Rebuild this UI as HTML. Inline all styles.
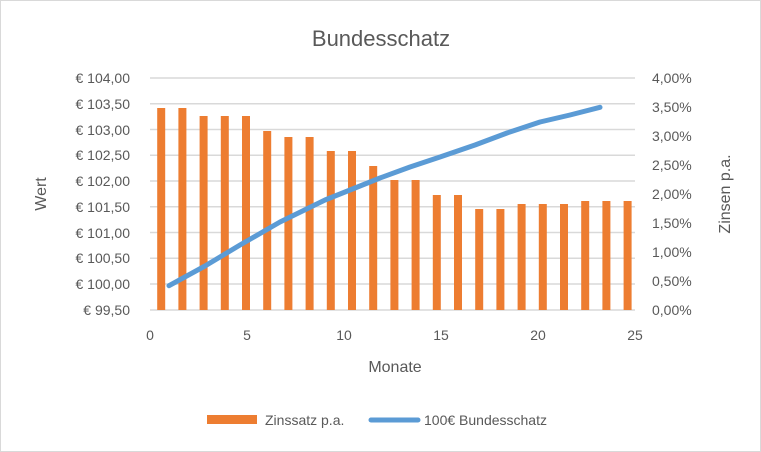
<!DOCTYPE html>
<html><head><meta charset="utf-8"><style>
body{margin:0;background:#fff}
svg{display:block;font-family:"Liberation Sans",sans-serif}
</style></head><body>
<svg width="761" height="452" viewBox="0 0 761 452">
<rect x="0.5" y="0.5" width="760" height="451" fill="#fff" stroke="#d9d9d9"/>
<text x="381" y="46" font-size="22" fill="#595959" text-anchor="middle">Bundesschatz</text>
<g stroke="#d9d9d9" stroke-width="1.5">
<line x1="150" x2="635" y1="78" y2="78"/><line x1="150" x2="635" y1="103.75" y2="103.75"/>
<line x1="150" x2="635" y1="129.5" y2="129.5"/><line x1="150" x2="635" y1="155.25" y2="155.25"/>
<line x1="150" x2="635" y1="181" y2="181"/><line x1="150" x2="635" y1="206.75" y2="206.75"/>
<line x1="150" x2="635" y1="232.5" y2="232.5"/><line x1="150" x2="635" y1="258.25" y2="258.25"/>
<line x1="150" x2="635" y1="284" y2="284"/><line x1="150" x2="635" y1="310" y2="310"/>
</g>
<g fill="#595959" font-size="14" text-anchor="end">
<text x="130" y="83">€ 104,00</text><text x="130" y="109">€ 103,50</text>
<text x="130" y="135">€ 103,00</text><text x="130" y="160">€ 102,50</text>
<text x="130" y="186">€ 102,00</text><text x="130" y="212">€ 101,50</text>
<text x="130" y="238">€ 101,00</text><text x="130" y="263">€ 100,50</text>
<text x="130" y="289">€ 100,00</text><text x="130" y="315">€ 99,50</text>
</g>
<g fill="#595959" font-size="14" text-anchor="start">
<text x="652" y="83">4,00%</text><text x="652" y="112">3,50%</text>
<text x="652" y="141">3,00%</text><text x="652" y="170">2,50%</text>
<text x="652" y="199">2,00%</text><text x="652" y="228">1,50%</text>
<text x="652" y="257">1,00%</text><text x="652" y="286">0,50%</text>
<text x="652" y="315">0,00%</text>
</g>
<g fill="#595959" font-size="14" text-anchor="middle">
<text x="150" y="340">0</text><text x="247" y="340">5</text><text x="344" y="340">10</text>
<text x="441" y="340">15</text><text x="538" y="340">20</text><text x="635" y="340">25</text>
<text x="395" y="372" font-size="16">Monate</text>
<text transform="translate(46,194) rotate(-90)" font-size="16">Wert</text>
<text transform="translate(730,194) rotate(-90)" font-size="16">Zinsen p.a.</text>
</g>
<g fill="#ed7d31">
<rect x="157.2" y="108" width="8" height="202"/>
<rect x="178.4" y="108" width="8" height="202"/>
<rect x="199.6" y="116" width="8" height="194"/>
<rect x="220.8" y="116" width="8" height="194"/>
<rect x="242" y="116" width="8" height="194"/>
<rect x="263.2" y="131" width="8" height="179"/>
<rect x="284.4" y="137" width="8" height="173"/>
<rect x="305.6" y="137" width="8" height="173"/>
<rect x="326.8" y="151" width="8" height="159"/>
<rect x="348" y="151" width="8" height="159"/>
<rect x="369.2" y="166" width="8" height="144"/>
<rect x="390.4" y="180" width="8" height="130"/>
<rect x="411.6" y="180" width="8" height="130"/>
<rect x="432.8" y="195" width="8" height="115"/>
<rect x="454" y="195" width="8" height="115"/>
<rect x="475.2" y="209" width="8" height="101"/>
<rect x="496.4" y="209" width="8" height="101"/>
<rect x="517.6" y="204" width="8" height="106"/>
<rect x="538.8" y="204" width="8" height="106"/>
<rect x="560" y="204" width="8" height="106"/>
<rect x="581.2" y="201" width="8" height="109"/>
<rect x="602.4" y="201" width="8" height="109"/>
<rect x="623.6" y="201" width="8" height="109"/>
</g>
<polyline fill="none" stroke="#5b9bd5" stroke-width="5" stroke-linecap="round" stroke-linejoin="round"
points="169,285.7 205,266 240,245 280,222 325,200 350,190 380,178 410,167 440,157 475,145 507,133 540,122 570,115 600,107.3"/>
<rect x="207" y="415" width="50" height="9" fill="#ed7d31"/>
<text x="265" y="425" font-size="14" fill="#595959">Zinssatz p.a.</text>
<line x1="371" x2="418" y1="420" y2="420" stroke="#5b9bd5" stroke-width="5" stroke-linecap="round"/>
<text x="424" y="425" font-size="14" fill="#595959">100€ Bundesschatz</text>
</svg>
</body></html>
